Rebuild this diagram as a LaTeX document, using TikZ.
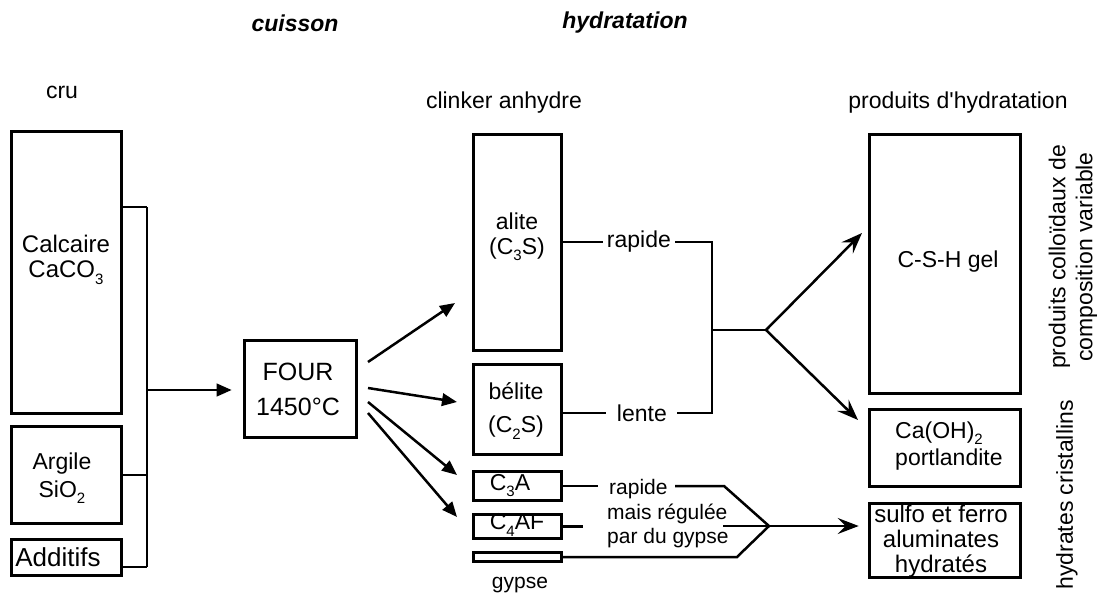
\documentclass[tikz,border=0pt]{standalone}
\usepackage{fontspec}
\setmainfont{Liberation Sans}
\usetikzlibrary{arrows.meta,calc}
\newcommand{\mysub}[1]{\raisebox{-0.5ex}{\fontsize{15}{15}\selectfont #1}}
\begin{document}
\begin{tikzpicture}[x=1pt,y=-1pt,
  box/.style={draw, line width=2.6pt, inner sep=0pt},
  txt/.style={inner sep=0pt, align=center, font=\fontsize{23}{25}\selectfont},
  ttl/.style={inner sep=0pt, font=\fontsize{23}{25}\selectfont\bfseries\itshape},
  small/.style={inner sep=0pt, font=\fontsize{21}{24}\selectfont},
  lab/.style={fill=white, inner xsep=4pt, inner ysep=1pt, font=\fontsize{23}{25}\selectfont},
  ln/.style={line width=2.5pt},
  tri/.style={line width=2.5pt, -{Triangle[length=15pt,width=12.5pt]}},
  stl/.style={line width=2.5pt, -{Stealth[length=21pt,width=16pt,inset=8pt]}}]
\useasboundingbox (0,0) rectangle (1105,599);

% titles
\node[ttl] (tcuis) at (295,23) {cuisson};
\node[ttl] (thyd) at (625,23) {hydratation};
\node[txt] (tcru) at (62,92) {cru};
\node[txt] (tclink) at (504,103) {clinker anhydre};
\node[txt] (tprod) at (958,103) {produits d\textquotesingle hydratation};

% boxes
\node[box, minimum width=110pt, minimum height=282pt] (calc) at (66.5,272.5) {};
\node[box, minimum width=110pt, minimum height=97pt] (argile) at (66.5,475) {};
\node[box, minimum width=110pt, minimum height=36pt] (add) at (66.5,557.5) {};
\node[box, minimum width=112pt, minimum height=97pt] (four) at (300.5,389) {};
\node[box, minimum width=88pt, minimum height=216pt] (alite) at (517.5,242.5) {};
\node[box, minimum width=88pt, minimum height=90pt] (belite) at (517.5,409.5) {};
\node[box, minimum width=88pt, minimum height=29pt] (c3a) at (517.5,486) {};
\node[box, minimum width=88pt, minimum height=24pt] (c4af) at (517.5,526.5) {};
\node[box, minimum width=88pt, minimum height=9pt] (gyp) at (517.5,557) {};
\node[box, minimum width=151pt, minimum height=259pt] (csh) at (945,264) {};
\node[box, minimum width=151pt, minimum height=77pt] (caoh) at (945,448) {};
\node[box, minimum width=151pt, minimum height=74pt] (sulfo) at (945,540.5) {};

% box texts
\node[txt, font=\fontsize{24}{25}\selectfont] (tcalc) at (66,260) {Calcaire\\CaCO\mysub{3}};
\node[txt] (targ) at (62,478) {Argile\\[3pt]SiO\mysub{2}};
\node[txt, font=\fontsize{26}{26}\selectfont] (tadd) at (58,557) {Additifs};
\node[txt, font=\fontsize{25}{35}\selectfont] (tfour) at (298,389) {FOUR\\1450°C};
\node[txt] (talite) at (517,237) {alite\\(C\mysub{3}S)};
\node[txt] (tbel) at (516,411) {bélite\\[8pt](C\mysub{2}S)};
\node[txt] (tc3a) at (510,486) {C\mysub{3}A};
\node[txt] (tc4af) at (517,525) {C\mysub{4}AF};
\node[small] (tgyp) at (520,585) {gypse};
\node[txt] (tcsh) at (948,262) {C-S-H gel};
\node[txt, align=left, anchor=west] (tcaoh) at (895,446) {Ca(OH)\mysub{2}\\[2pt]portlandite};
\node[txt, font=\fontsize{24}{25}\selectfont] (tsulfo) at (941,541) {sulfo et ferro\\aluminates\\hydratés};

% side labels
\node[txt, rotate=90, font=\fontsize{23}{27}\selectfont] (tcoll) at (1073,257) {produits colloïdaux de\\composition variable};
\node[txt, rotate=90] (tcrist) at (1067,495) {hydrates cristallins};

% bus from raw materials
\coordinate (bustop) at (147,207);
\coordinate (busbot) at (147,567);
\coordinate (busmid) at (147,390);
\draw[ln] (bustop) -- (busbot);
\draw[ln] (calc.east |- bustop) -- (bustop);
\draw[ln] (argile.east) -- (argile.east -| bustop);
\draw[ln] (add.east |- busbot) -- (busbot);
\draw[tri, shorten >=11.5pt] (busmid) -- (four.west |- busmid);

% kiln outputs
\coordinate (o1) at (368,362); \coordinate (e1) at (455,303);
\coordinate (o2) at (368,388); \coordinate (e2) at (457,402);
\coordinate (o3) at (368,402); \coordinate (e3) at (457,475);
\coordinate (o4) at (368,413); \coordinate (e4) at (457,517);
\draw[tri] (o1) -- (e1);
\draw[tri] (o2) -- (e2);
\draw[tri] (o3) -- (e3);
\draw[tri] (o4) -- (e4);

% silicate hydration
\coordinate (jr) at (712,242);
\coordinate (jl) at (712,413);
\coordinate (jm) at (712,330);
\coordinate (fork) at (766,330);
\coordinate (ta) at (862,233);
\coordinate (tb) at (858,420);
\draw[ln] (alite.east |- jr) -- node[lab, pos=0.51] (trap) {rapide} (jr) -- (jl)
  -- node[lab, inner xsep=10.5pt, pos=0.47] (tlen) {lente} (belite.east |- jl);
\draw[ln] (jm) -- (fork);
\draw[stl] (fork) -- (ta);
\draw[stl] (fork) -- (tb);

% aluminate hydration
\coordinate (r1) at (598,486);
\coordinate (r2) at (675,486);
\coordinate (r3) at (724,486);
\coordinate (fork2) at (769,526);
\coordinate (m1) at (583,526.5);
\coordinate (m2) at (723,526);
\coordinate (g1) at (737,557);
\draw[ln] (c3a.east) -- (r1);
\draw[ln] (r2) -- (r3) -- (fork2);
\draw[ln] (c4af.east) -- (m1);
\draw[ln] (gyp.east) -- (g1) -- (fork2);
\draw[stl, shorten >=9.5pt] (m2) -- (sulfo.west |- fork2);
\node[small, anchor=base west] (tb1) at (609,494) {rapide};
\node[small, anchor=base west] (tb2) at (607,519) {mais régulée};
\node[small, anchor=base west] (tb3) at (607,543) {par du gypse};
\end{tikzpicture}
\end{document}
